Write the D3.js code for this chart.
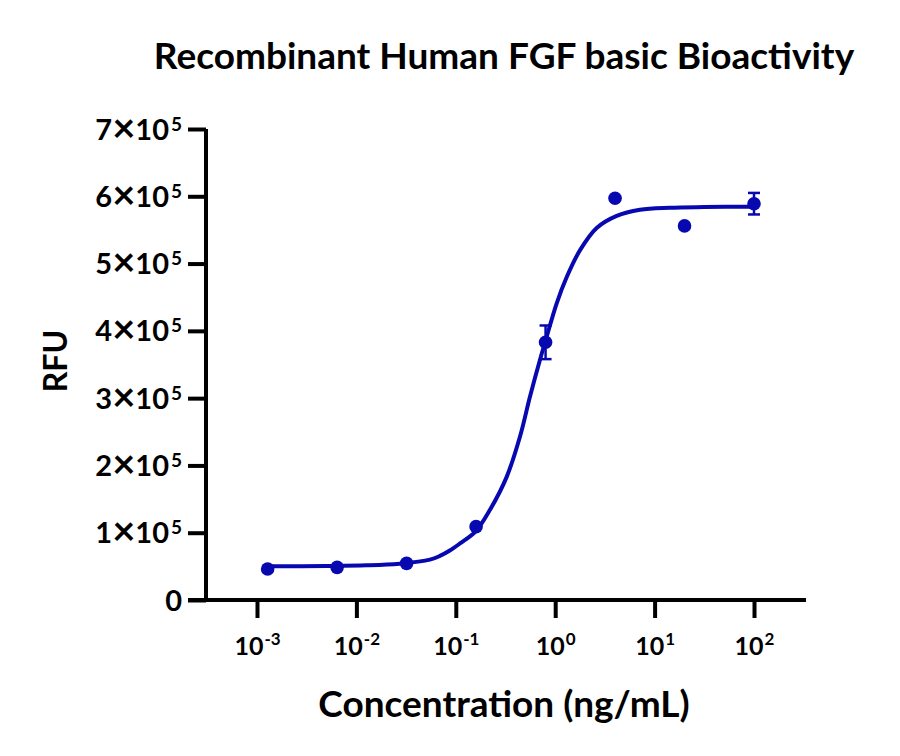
<!DOCTYPE html>
<html>
<head>
<meta charset="utf-8">
<script src="https://cdn.jsdelivr.net/npm/d3@7"></script>
<style>
  body { margin: 0; background: #fff; }
  text { font-family: Lato, sans-serif; font-weight: bold; fill: #000; }
</style>
</head>
<body>
<svg id="chart" width="900" height="756"></svg>
<script>
// measured points, concentration in ng/mL, response in RFU
const conc = [0.00128, 0.0064, 0.032, 0.16, 0.8, 4, 20, 100];
const rfu = [46000, 48500, 54500, 109000, 383000, 597000, 556000, 589000];
const err = [0, 0, 0, 0, 25000, 0, 0, 16000];

// fitted curve (log10 conc, RFU)
const fitLog = [-2.893, -2.3, -1.9, -1.565, -1.26, -1.16, -1.06, -0.958, -0.8, -0.656, -0.488, -0.354, -0.254, -0.153, -0.086, 0.015, 0.116, 0.25, 0.417, 0.619, 0.853, 1.15, 1.5, 2.0];
const fitRfu = [50000, 50500, 51500, 54000, 60000, 65500, 73500, 84000, 102000, 134000, 183000, 243000, 302000, 357000, 391000, 441000, 480000, 520000, 553000, 571000, 580000, 583000, 584000, 584500];

const xTicks = [-3, -2, -1, 0, 1, 2];
const yTicks = [0, 1, 2, 3, 4, 5, 6, 7];

const blue = "#0808b0";
const margin = {top: 129, right: 94, bottom: 156, left: 188};
const width = 900 - margin.left - margin.right;
const height = 756 - margin.top - margin.bottom;
const yAxisX = 18;

const x = d3.scaleLog()
    .domain([Math.pow(10, -3.694), Math.pow(10, 2.523)])
    .range([0, width]);

const y = d3.scaleLinear()
    .domain([0, 700000])
    .range([height, 0]);

const svg = d3.select("#chart");
const chart = svg.append("g")
    .attr("transform", `translate(${margin.left},${margin.top})`);

// x axis
const xAxis = d3.axisBottom(x)
    .tickValues(xTicks.map((e) => Math.pow(10, e)))
    .tickSize(18)
    .tickSizeOuter(0)
    .tickFormat("");

const gx = chart.append("g")
    .attr("transform", `translate(0,${height})`)
    .call(xAxis);

gx.selectAll(".tick").each(function(d, i) {
  const t = d3.select(this).append("text")
      .attr("y", 55)
      .attr("text-anchor", "middle")
      .style("font-size", "25px");
  t.append("tspan").text("10");
  t.append("tspan").attr("dx", 1).attr("dy", -10).style("font-size", "17px").text(xTicks[i]);
});

// y axis
const yAxis = d3.axisLeft(y)
    .tickValues(yTicks.map((v) => v * 100000))
    .tickSize(18)
    .tickSizeOuter(0)
    .tickFormat("");

const gy = chart.append("g")
    .attr("transform", `translate(${yAxisX},0)`)
    .call(yAxis);

gy.selectAll(".tick").each(function(d, i) {
  const t = d3.select(this).append("text")
      .attr("x", -24)
      .attr("y", 10)
      .attr("text-anchor", "end")
      .style("font-size", "29px");
  if (yTicks[i] === 0) {
    t.text("0");
  } else {
    t.append("tspan").text(yTicks[i]);
    t.append("tspan").attr("dy", 2).style("font-size", "40px").text("\u00d7");
    t.append("tspan").attr("dy", -2).text("10");
    t.append("tspan").attr("dx", 2).attr("dy", -9).style("font-size", "19px").text("5");
  }
});

chart.selectAll(".domain, .tick line")
    .attr("stroke", "#000")
    .attr("stroke-width", 4);
gx.select(".domain").attr("d", `M0,0H${width}`);
gy.select(".domain").attr("d", `M0,0V${height}`);

// fitted curve
const line = d3.line()
    .x((d) => x(Math.pow(10, d[0])))
    .y((d) => y(d[1]))
    .curve(d3.curveCatmullRom.alpha(0.5));

chart.append("path")
    .datum(d3.zip(fitLog, fitRfu))
    .attr("fill", "none")
    .attr("stroke", blue)
    .attr("stroke-width", 4)
    .attr("d", line);

// error bars
const pts = conc.map((c, i) => ({c: c, v: rfu[i], e: err[i]}));
const bars = chart.append("g")
    .attr("stroke", blue)
    .attr("stroke-width", 2.5)
    .selectAll("g")
    .data(pts.filter((d) => d.e > 0))
    .enter().append("g");

bars.append("line")
    .attr("x1", (d) => x(d.c)).attr("x2", (d) => x(d.c))
    .attr("y1", (d) => y(d.v + d.e)).attr("y2", (d) => y(d.v - d.e));
bars.append("line")
    .attr("x1", (d) => x(d.c) - 6).attr("x2", (d) => x(d.c) + 6)
    .attr("y1", (d) => y(d.v + d.e)).attr("y2", (d) => y(d.v + d.e));
bars.append("line")
    .attr("x1", (d) => x(d.c) - 6).attr("x2", (d) => x(d.c) + 6)
    .attr("y1", (d) => y(d.v - d.e)).attr("y2", (d) => y(d.v - d.e));

// points
chart.append("g")
    .selectAll("circle")
    .data(pts)
    .enter().append("circle")
    .attr("cx", (d) => x(d.c))
    .attr("cy", (d) => y(d.v))
    .attr("r", 6.8)
    .attr("fill", blue);

// titles
svg.append("text")
    .attr("x", 504)
    .attr("y", 69)
    .attr("text-anchor", "middle")
    .style("font-size", "37px")
    .text("Recombinant Human FGF basic Bioactivity");

svg.append("text")
    .attr("x", 504)
    .attr("y", 717)
    .attr("text-anchor", "middle")
    .style("font-size", "37px")
    .text("Concentration (ng/mL)");

svg.append("text")
    .attr("transform", "translate(67,361) rotate(-90)")
    .attr("text-anchor", "middle")
    .style("font-size", "32px")
    .text("RFU");
</script>
</body>
</html>
